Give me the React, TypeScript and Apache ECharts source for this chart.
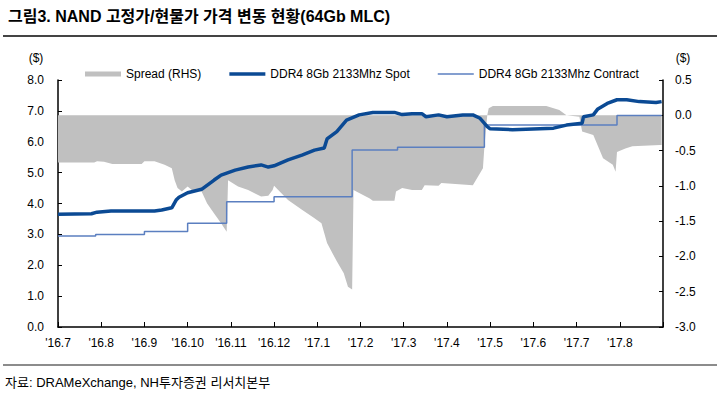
import React, { useEffect, useRef } from "react";
import * as echarts from "echarts";

const FONT = "'Liberation Sans Narrow', 'Arial Narrow', 'Liberation Sans', Arial, 'Noto Sans CJK KR', sans-serif";

const monthLabels = ["'16.7", "'16.8", "'16.9", "'16.10", "'16.11", "'16.12", "'17.1", "'17.2", "'17.3", "'17.4", "'17.5", "'17.6", "'17.7", "'17.8", ""];

const spot: [string, number][] = [
  ["2016-07-01", 3.65], ["2016-07-25", 3.67], ["2016-07-29", 3.72], ["2016-08-08", 3.76],
  ["2016-09-08", 3.76], ["2016-09-13", 3.79], ["2016-09-20", 3.86], ["2016-09-23", 4.11],
  ["2016-09-25", 4.2], ["2016-10-01", 4.35], ["2016-10-11", 4.46], ["2016-10-20", 4.76],
  ["2016-10-25", 4.92], ["2016-11-04", 5.08], ["2016-11-13", 5.18], ["2016-11-22", 5.25],
  ["2016-11-27", 5.18], ["2016-12-01", 5.22], ["2016-12-11", 5.41], ["2016-12-21", 5.57],
  ["2016-12-30", 5.73], ["2017-01-06", 5.8], ["2017-01-08", 6.09], ["2017-01-15", 6.33],
  ["2017-01-22", 6.7], ["2017-01-31", 6.87], ["2017-02-09", 6.95], ["2017-02-23", 6.95],
  ["2017-02-28", 6.88], ["2017-03-07", 6.91], ["2017-03-14", 6.91], ["2017-03-17", 6.81],
  ["2017-03-26", 6.87], ["2017-04-01", 6.81], ["2017-04-12", 6.87], ["2017-04-19", 6.87],
  ["2017-04-24", 6.76], ["2017-04-29", 6.49], ["2017-05-01", 6.42], ["2017-05-17", 6.39],
  ["2017-06-15", 6.44], ["2017-06-24", 6.54], ["2017-07-05", 6.6], ["2017-07-06", 6.81],
  ["2017-07-13", 6.87], ["2017-07-16", 7.05], ["2017-07-23", 7.24], ["2017-07-30", 7.36],
  ["2017-08-06", 7.36], ["2017-08-15", 7.3], ["2017-08-27", 7.27], ["2017-08-31", 7.3],
];

const contract: [string, number][] = [
  ["2016-07-01", 2.95], ["2016-07-28", 3.0], ["2016-09-01", 3.09], ["2016-10-01", 3.36],
  ["2016-10-29", 4.06], ["2016-12-01", 4.22], ["2017-01-26", 5.73], ["2017-02-25", 5.82],
  ["2017-04-27", 6.54], ["2017-07-30", 6.85], ["2017-08-31", 6.85],
];

const spread: [string, number][] = [
  ["2016-07-01", -0.67], ["2016-07-27", -0.67], ["2016-07-29", -0.65], ["2016-08-03", -0.66],
  ["2016-08-09", -0.69], ["2016-08-30", -0.69], ["2016-09-01", -0.65], ["2016-09-08", -0.65],
  ["2016-09-15", -0.7], ["2016-09-20", -0.75], ["2016-09-22", -0.92], ["2016-09-24", -1.03],
  ["2016-09-27", -1.08], ["2016-10-01", -1.01], ["2016-10-04", -1.06], ["2016-10-11", -1.08],
  ["2016-10-15", -1.25], ["2016-10-20", -1.39], ["2016-10-25", -1.53], ["2016-10-29", -1.65],
  ["2016-10-30", -0.92], ["2016-11-06", -1.01], ["2016-11-13", -1.06], ["2016-11-22", -1.15],
  ["2016-11-27", -1.14], ["2016-11-30", -1.06], ["2016-12-01", -1.0], ["2016-12-11", -1.2],
  ["2016-12-21", -1.34], ["2016-12-30", -1.46], ["2017-01-04", -1.53], ["2017-01-08", -1.81],
  ["2017-01-15", -2.07], ["2017-01-20", -2.24], ["2017-01-23", -2.43], ["2017-01-26", -2.47],
  ["2017-01-27", -1.06], ["2017-01-29", -1.08], ["2017-02-07", -1.18], ["2017-02-09", -1.21],
  ["2017-02-23", -1.21], ["2017-02-24", -1.08], ["2017-02-28", -1.03], ["2017-03-07", -1.06],
  ["2017-03-14", -1.06], ["2017-03-16", -0.99], ["2017-03-26", -1.0], ["2017-03-28", -0.96],
  ["2017-04-19", -0.99], ["2017-04-22", -0.89], ["2017-04-26", -0.75], ["2017-04-27", -0.45],
  ["2017-04-29", 0.0], ["2017-04-30", 0.1], ["2017-05-03", 0.13], ["2017-06-10", 0.13],
  ["2017-06-19", 0.075], ["2017-06-24", 0.0], ["2017-07-03", -0.02], ["2017-07-05", -0.23],
  ["2017-07-13", -0.28], ["2017-07-20", -0.61], ["2017-07-27", -0.7], ["2017-07-29", -0.8],
  ["2017-07-30", -0.52], ["2017-08-05", -0.47], ["2017-08-10", -0.44], ["2017-08-30", -0.42],
  ["2017-08-31", -0.42],
];

const leftTicks = { min: 0, max: 8, interval: 1 };
const rightTicks = { min: -3, max: 0.5, interval: 0.5 };

function monthPos(d: string): number {
  const [y, m, day] = d.split("-").map(Number);
  const dim = new Date(y, m, 0).getDate();
  return (y - 2016) * 12 + (m - 7) + (day - 1) / dim;
}

const toXY = (arr: [string, number][]) => arr.map(([d, v]) => [monthPos(d), v]);

export default function App() {
  const ref = useRef<HTMLDivElement>(null);
  useEffect(() => {
    if (!ref.current) return;
    const chart = echarts.init(ref.current, undefined, { renderer: "svg" });
    const axisLine = { show: true, lineStyle: { color: "#000", width: 1.5 } };
    const labelStyle = { color: "#000", fontSize: 12, fontFamily: FONT };
    chart.setOption({
      animation: false,
      backgroundColor: "#fff",
      textStyle: { fontFamily: FONT },
      grid: { left: 58, right: 57, top: 80, bottom: 67, containLabel: false },
      legend: {
        left: 80,
        top: 63,
        itemGap: 28,
        itemWidth: 36,
        itemHeight: 8,
        symbolKeepAspect: true,
        textStyle: { color: "#000", fontSize: 12, fontFamily: FONT },
        data: [
          { name: "Spread (RHS)", icon: "path://M0,0H36V5H0Z", itemStyle: { color: "#c0c0c0" } },
          { name: "DDR4 8Gb 2133Mhz Spot", icon: "path://M0,0H36V3.5H0Z", itemStyle: { color: "#0b4a94" } },
          { name: "DDR4 8Gb 2133Mhz Contract", icon: "path://M0,0H36V1.5H0Z", itemStyle: { color: "#5b7fc0" } },
        ],
      },
      xAxis: {
        type: "value",
        min: 0,
        max: 14,
        interval: 1,
        axisLine,
        axisTick: { show: true, inside: true, length: 5, lineStyle: { color: "#000" } },
        splitLine: { show: false },
        axisLabel: {
          ...labelStyle,
          margin: 10,
          formatter: (v: number) => monthLabels[Math.round(v)] ?? "",
        },
      },
      yAxis: [
        {
          type: "value",
          ...leftTicks,
          position: "left",
          axisLine,
          axisTick: { show: true, inside: true, length: 4, lineStyle: { color: "#000" } },
          splitLine: { show: false },
          axisLabel: { ...labelStyle, margin: 14, formatter: (v: number) => v.toFixed(1) },
        },
        {
          type: "value",
          ...rightTicks,
          position: "right",
          axisLine,
          axisTick: { show: true, inside: true, length: 4, lineStyle: { color: "#000" } },
          splitLine: { show: false },
          axisLabel: { ...labelStyle, margin: 12, formatter: (v: number) => v.toFixed(1) },
        },
      ],
      series: [
        {
          name: "Spread (RHS)",
          type: "line",
          yAxisIndex: 1,
          data: toXY(spread),
          symbol: "none",
          color: "#c0c0c0",
          itemStyle: { color: "#c0c0c0" },
          lineStyle: { width: 0, color: "#c0c0c0" },
          areaStyle: { color: "#c0c0c0", opacity: 1 },
          z: 1,
        },
        {
          name: "DDR4 8Gb 2133Mhz Contract",
          type: "line",
          yAxisIndex: 0,
          data: toXY(contract),
          step: "end",
          symbol: "none",
          color: "#5b7fc0",
          lineStyle: { width: 1.5, color: "#5b7fc0" },
          z: 2,
        },
        {
          name: "DDR4 8Gb 2133Mhz Spot",
          type: "line",
          yAxisIndex: 0,
          data: toXY(spot),
          symbol: "none",
          color: "#0b4a94",
          lineStyle: { width: 3.5, color: "#0b4a94" },
          z: 3,
        },
      ],
      graphic: [
        {
          type: "text",
          left: 8,
          top: 8,
          style: {
            text: "그림3. NAND 고정가/현물가 가격 변동 현황(64Gb MLC)",
            fontSize: 16,
            fontWeight: "bold",
            fontFamily: FONT,
            fill: "#000",
          },
        },
        { type: "line", shape: { x1: 3, y1: 36, x2: 717, y2: 36 }, style: { stroke: "#444", lineWidth: 2 } },
        {
          type: "text",
          x: 36,
          y: 58,
          style: { text: "($)", fontSize: 12, fontFamily: FONT, fill: "#000", textAlign: "center", textVerticalAlign: "middle" },
        },
        {
          type: "text",
          x: 683,
          y: 58,
          style: { text: "($)", fontSize: 12, fontFamily: FONT, fill: "#000", textAlign: "center", textVerticalAlign: "middle" },
        },
        { type: "line", shape: { x1: 3, y1: 365, x2: 717, y2: 365 }, style: { stroke: "#666", lineWidth: 1.5 } },
        {
          type: "text",
          x: 5,
          y: 382,
          style: { text: "자료: DRAMeXchange, NH투자증권 리서치본부", fontSize: 13, fontFamily: FONT, fill: "#000", textVerticalAlign: "middle" },
        },
      ],
    });
    return () => chart.dispose();
  }, []);
  return (
    <div
      ref={ref}
      style={{ position: "fixed", left: 0, top: 0, width: 720, height: 394, background: "#fff" }}
    />
  );
}
